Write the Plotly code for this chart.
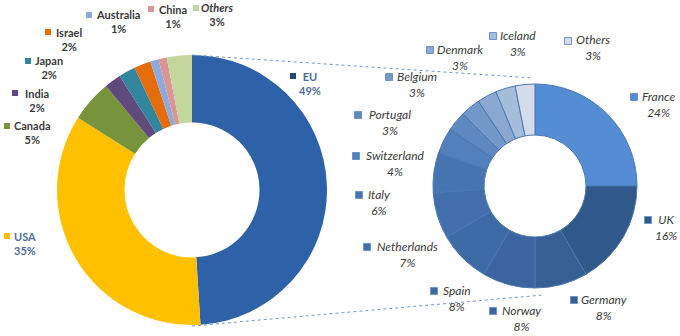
import plotly.graph_objects as go

# ---------------- data ----------------
world_labels = ["EU", "USA", "Canada", "India", "Japan", "Israel", "Australia", "China", "Others"]
world_values = [49, 35, 5, 2, 2, 2, 1, 1, 3]

eu_labels = ["France", "UK", "Germany", "Norway", "Spain", "Netherlands", "Italy",
             "Switzerland", "Portugal", "Belgium", "Denmark", "Iceland", "Others"]
eu_values = [24, 16, 8, 8, 8, 7, 6, 4, 3, 3, 3, 3, 3]

# ---------------- styles ----------------
world_colors = ["#2E62A8", "#FFC000", "#77933C", "#604A7B", "#31859C", "#E46C0A",
                "#8EA9DB", "#D99694", "#C3D69B"]
world_square = ["#1F497D", "#FFC000", "#77933C", "#604A7B", "#31859C", "#E46C0A",
                "#8EA9DB", "#D99694", "#C3D69B"]
eu_colors = ["#548DD4", "#30588A", "#365F94", "#3A659E", "#3D6BA6", "#426FAC", "#4674B0",
             "#5180BA", "#5E89C0", "#7397C8", "#8AA8D0", "#A5BCDB", "#D2DCEB"]

W, H = 680, 336


def px(x):
    return x / W


def py(y):
    return 1 - y / H


# label anchor positions (pixel: square x, name-line y, text centre x)
world_pos = {
    "EU": (293, 76, 310),
    "USA": (7, 236, 25),
    "Canada": (7, 126, 32),
    "India": (15, 93, 37),
    "Japan": (28, 61, 49),
    "Israel": (48, 32, 69),
    "Australia": (89, 15, 118),
    "China": (151, 9, 173),
    "Others": (196, 8, 217),
}
eu_pos = {
    "France": (634, 97, 658),
    "UK": (648, 220, 666),
    "Germany": (574, 300, 604),
    "Norway": (493, 311, 521),
    "Spain": (434, 291, 457),
    "Netherlands": (367, 247, 407),
    "Italy": (359, 195, 379),
    "Switzerland": (356, 156, 395),
    "Portugal": (358, 115, 390),
    "Belgium": (389, 77, 417),
    "Denmark": (430, 50, 460),
    "Iceland": (493, 36, 518),
    "Others": (568, 41, 593),
}

fig = go.Figure()

# left donut: centre (192,190), r 135
fig.add_trace(go.Pie(
    labels=world_labels, values=world_values, sort=False, direction="clockwise",
    rotation=0, hole=0.5, textinfo="none", hoverinfo="label+percent",
    marker=dict(colors=world_colors, line=dict(width=0)),
    domain=dict(x=[px(57), px(327)], y=[py(325), py(55)]),
    showlegend=False,
))

# right donut: centre (535,186), r 102
fig.add_trace(go.Pie(
    labels=eu_labels, values=eu_values, sort=False, direction="clockwise",
    rotation=0, hole=0.5, textinfo="none", hoverinfo="label+percent",
    marker=dict(colors=eu_colors, line=dict(width=1, color="#4A78B0")),
    domain=dict(x=[px(433), px(637)], y=[py(288), py(84)]),
    showlegend=False,
))

annotations = []
shapes = []

world_total = sum(world_values)
for lab, val, sq in zip(world_labels, world_values, world_square):
    sx, ty, cx = world_pos[lab]
    pct = f"{round(100 * val / world_total)}%"
    if lab in ("EU", "USA"):
        col = "#4F6D93"
    else:
        col = "#3A3A3A"
    name = f"<i>{lab}</i>" if lab == "Others" else lab
    annotations.append(dict(
        x=px(cx), y=py(ty + 7), xref="paper", yref="paper",
        text=f"<b>{name}<br>{pct}</b>", showarrow=False, align="center",
        font=dict(family="Lato", size=11, color=col),
        xanchor="center", yanchor="middle",
    ))
    shapes.append(dict(type="rect", xref="paper", yref="paper",
                       x0=px(sx - 3), x1=px(sx + 3), y0=py(ty + 3), y1=py(ty - 3),
                       fillcolor=sq, line=dict(width=0)))

for lab, val, col in zip(eu_labels, eu_values, eu_colors):
    sx, ty, cx = eu_pos[lab]
    pct = f"{val}%"
    annotations.append(dict(
        x=px(cx), y=py(ty + 7), xref="paper", yref="paper",
        text=f"<i>{lab}<br>{pct}</i>", showarrow=False, align="center",
        font=dict(family="Lato", size=12, color="#3A3A3A"),
        xanchor="center", yanchor="middle",
    ))
    shapes.append(dict(type="rect", xref="paper", yref="paper",
                       x0=px(sx - 3.5), x1=px(sx + 3.5), y0=py(ty + 3.5), y1=py(ty - 3.5),
                       fillcolor=col, line=dict(width=1, color="#6F93C4")))

# connector lines
shapes.append(dict(type="line", xref="paper", yref="paper",
                   x0=px(192), y0=py(55), x1=px(533), y1=py(78),
                   line=dict(color="#6F98C8", width=1, dash="dot")))
shapes.append(dict(type="line", xref="paper", yref="paper",
                   x0=px(192), y0=py(326), x1=px(543), y1=py(295),
                   line=dict(color="#6F98C8", width=1, dash="dot")))

fig.update_layout(
    width=W, height=H, margin=dict(l=0, r=0, t=0, b=0),
    paper_bgcolor="white", plot_bgcolor="white",
    annotations=annotations, shapes=shapes,
)

fig.write_html(
    "out.html",
    config={"displayModeBar": False},
    post_script="document.body.style.margin='0';document.body.style.overflow='hidden';",
)
